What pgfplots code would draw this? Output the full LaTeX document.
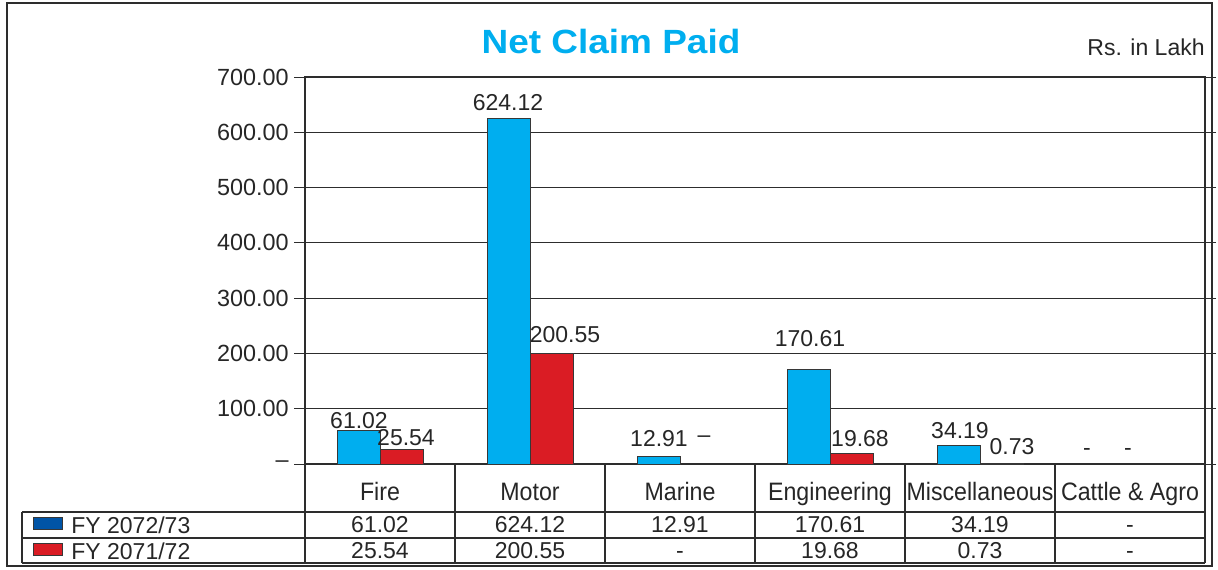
\documentclass[border=0pt]{standalone}
\usepackage{pgfplots}
\pgfplotsset{compat=1.18}
\usepackage{fontspec}
\setmainfont{Liberation Sans}
\newfontfamily\titlefont[FakeStretch=1.1]{Liberation Sans}
\newfontfamily\headfont[FakeStretch=0.92]{Liberation Sans}
\definecolor{cyanbar}{RGB}{0,174,239}
\definecolor{redbar}{RGB}{218,28,36}
\definecolor{legblue}{RGB}{0,84,166}
\definecolor{edge}{RGB}{55,55,55}
\definecolor{gridc}{RGB}{45,45,45}
\begin{document}
\begin{tikzpicture}[font=\fontsize{11.5}{13}\selectfont]
\begin{scope}[x=0.5pt,y=-0.5pt]
\path[use as bounding box] (0,0) rectangle (1218,569);
\draw[line width=1.1pt, gridc] (7,3) rectangle (1212,566);
\end{scope}
\begin{axis}[
 at={(152.5pt,-232pt)}, anchor=south west,
 width=450pt, height=193.5pt, scale only axis,
 xmin=-0.5, xmax=5.5, ymin=0, ymax=700,
 xtick=\empty,
 ytick={0,100,...,700},
 yticklabels={--,100.00,200.00,300.00,400.00,500.00,600.00,700.00},
 ymajorgrids, grid style={draw=gridc, line width=0.5pt},
 axis line style={draw=gridc, line width=0.6pt},
 tick align=outside, major tick length=5.5pt, ytick style={draw=gridc, line width=0.5pt},
 yticklabel style={font=\fontsize{11.7}{13}\selectfont, inner sep=0pt, xshift=-2.5pt, text=black!85},
 ybar, bar width=21.5pt,
 clip=false,
]
\addplot[fill=cyanbar, draw=edge, line width=0.5pt, bar shift=-10.75pt] coordinates {(0,61.02) (1,624.12) (2,12.91) (3,170.61) (4,34.19)};
\addplot[fill=redbar, draw=edge, line width=0.5pt, bar shift=10.75pt] coordinates {(0,25.54) (1,200.55) (3,19.68) (4,0.73)};
\end{axis}
\begin{scope}[x=0.5pt,y=-0.5pt, every node/.style={inner sep=0pt, text=black!85}]
% title
\node[anchor=base, font=\titlefont\fontsize{16.8}{20}\selectfont\bfseries, text=cyanbar] at (611,53) {Net Claim Paid};
\node[anchor=base east] at (1205,55) {Rs. in Lakh};
% bar labels
\node[anchor=base] at (359,428) {61.02};
\node[anchor=base] at (406,445) {25.54};
\node[anchor=base] at (508,110) {624.12};
\node[anchor=base] at (565,342) {200.55};
\node[anchor=base] at (659,446) {12.91};
\node[anchor=base] at (704,442) {--};
\node[anchor=base] at (810,346) {170.61};
\node[anchor=base] at (860,446) {19.68};
\node[anchor=base] at (960,438) {34.19};
\node[anchor=base] at (1012,454) {0.73};
\node[anchor=base] at (1087,455) {-};
\node[anchor=base] at (1128,455) {-};
% table grid
\draw[gridc, line width=0.6pt] (305,464) -- (305,563);
\foreach \xx in {455,605,755,905,1055,1205} \draw[gridc, line width=0.6pt] (\xx,464) -- (\xx,563);
\draw[gridc, line width=0.6pt] (22,512) -- (1205,512);
\draw[gridc, line width=0.6pt] (22,538) -- (1205,538);
\draw[gridc, line width=0.6pt] (22,563) -- (1205,563);
\draw[gridc, line width=0.6pt] (22,512) -- (22,563);
% header
\begin{scope}[every node/.append style={font=\headfont\fontsize{12.6}{14}\selectfont}]
\node[anchor=base] at (380,500) {Fire};
\node[anchor=base] at (530,500) {Motor};
\node[anchor=base] at (680,500) {Marine};
\node[anchor=base] at (830,500) {Engineering};
\node[anchor=base] at (980,500) {Miscellaneous};
\node[anchor=base] at (1130,500) {Cattle \& Agro};
\end{scope}
% legend swatches
\draw[edge, fill=legblue, line width=0.5pt] (33,517) rectangle (62,529);
\draw[edge, fill=redbar, line width=0.5pt] (33,543) rectangle (62,555);
\node[anchor=base west] at (71,533) {FY 2072/73};
\node[anchor=base west] at (71,559) {FY 2071/72};
% row 1
\node[anchor=base] at (380,532) {61.02};
\node[anchor=base] at (530,532) {624.12};
\node[anchor=base] at (680,532) {12.91};
\node[anchor=base] at (830,532) {170.61};
\node[anchor=base] at (980,532) {34.19};
\node[anchor=base] at (1130,532) {-};
% row 2
\node[anchor=base] at (380,558) {25.54};
\node[anchor=base] at (530,558) {200.55};
\node[anchor=base] at (680,558) {-};
\node[anchor=base] at (830,558) {19.68};
\node[anchor=base] at (980,558) {0.73};
\node[anchor=base] at (1130,558) {-};
\end{scope}
\end{tikzpicture}
\end{document}
